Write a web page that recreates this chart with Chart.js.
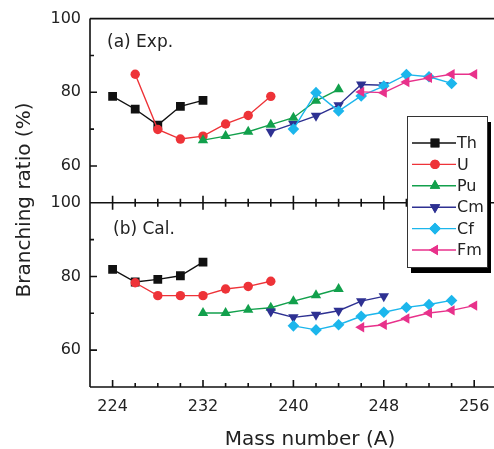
<!DOCTYPE html>
<html lang="en">
<head>
<meta charset="UTF-8">
<title>Branching ratio vs mass number</title>
<style>
  html, body { margin: 0; padding: 0; background: #fff; overflow: hidden; }
  #wrap { width: 503px; height: 449px; }
</style>
</head>
<body>
<div id="wrap"><canvas id="myChart" width="503" height="449"></canvas></div>

<script src="https://cdn.jsdelivr.net/npm/chart.js"></script>
<script>
// mass numbers per element
var thA = [224, 226, 228, 230, 232];
var uA  = [226, 228, 230, 232, 234, 236, 238];
var puA = [232, 234, 236, 238, 240, 242, 244];
var cmA = [238, 240, 242, 244, 246, 248];
var cfA = [240, 242, 244, 246, 248, 250, 252, 254];
var fmA = [246, 248, 250, 252, 254, 256];

// (a) experimental branching ratio (%)
var thExp = [78.9, 75.4, 71.1, 76.2, 77.8];
var uExp  = [84.9, 69.9, 67.3, 68.1, 71.4, 73.7, 78.9];
var puExp = [67.0, 68.1, 69.3, 71.2, 73.1, 77.7, 80.8];
var cmExp = [69.3, 71.4, 73.6, 76.5, 82.1, 81.9];
var cfExp = [70.0, 79.9, 74.9, 79.0, 81.7, 84.8, 84.2, 82.4];
var fmExp = [80.1, 79.9, 82.8, 83.9, 84.9, 84.9];

// (b) calculated branching ratio (%)
var thCal = [81.9, 78.5, 79.2, 80.2, 83.9];
var uCal  = [78.3, 74.8, 74.8, 74.8, 76.6, 77.3, 78.7];
var puCal = [70.1, 70.1, 71.0, 71.5, 73.3, 74.9, 76.6];
var cmCal = [70.5, 68.9, 69.6, 70.7, 73.3, 74.6];
var cfCal = [66.6, 65.5, 66.9, 69.2, 70.3, 71.6, 72.4, 73.5];
var fmCal = [66.2, 66.9, 68.6, 70.1, 70.8, 72.1];

var xTicks = [224, 232, 240, 248, 256];
var yTicks = [60, 80, 100];

var names = ['Th', 'U', 'Pu', 'Cm', 'Cf', 'Fm'];
var masses = [thA, uA, puA, cmA, cfA, fmA];
var expVals = [thExp, uExp, puExp, cmExp, cfExp, fmExp];
var calVals = [thCal, uCal, puCal, cmCal, cfCal, fmCal];
var colors = ['#111111', '#ee3338', '#12a04c', '#2e3192', '#1cb6ec', '#e8318b'];
var styles = ['rect', 'circle', 'triangle', 'triangle', 'rectRot', 'triangle'];
var rotations = [0, 0, 0, 180, 0, -90];
var radii = [6.2, 4.7, 6, 6, 5.8, 6];

var FONT = "'DejaVu Sans', sans-serif";

function points(xs, ys) {
    return xs.map(function (x, i) { return { x: x, y: ys[i] }; });
}

var datasets = [];
[['yTop', expVals], ['yBot', calVals]].forEach(function (panel) {
    names.forEach(function (name, i) {
        datasets.push({
            label: name,
            yAxisID: panel[0],
            data: points(masses[i], panel[1][i]),
            borderColor: colors[i],
            backgroundColor: colors[i],
            borderWidth: 1.4,
            pointStyle: styles[i],
            rotation: rotations[i],
            pointRadius: radii[i],
            pointBorderWidth: 0,
            pointHoverRadius: radii[i],
            order: 10 - i,
            tension: 0
        });
    });
});

function yScale() {
    return {
        type: 'linear',
        position: 'left',
        stack: 'panels',
        stackWeight: 1,
        min: 50,
        max: 100,
        grid: { display: false, drawTicks: false },
        border: { display: false },
        ticks: { color: '#222', font: { family: FONT, size: 16 }, padding: 9 },
        afterBuildTicks: function (scale) {
            scale.ticks = yTicks.map(function (v) { return { value: v }; });
        },
        afterFit: function (scale) { scale.width = 90; }
    };
}

// frame, inward ticks, titles, panel labels and legend
var decor = {
    id: 'decor',
    afterDatasetsDraw: function (chart) {
        var ctx = chart.ctx;
        var a = chart.chartArea;
        var x = chart.scales.x, yTop = chart.scales.yTop, yBot = chart.scales.yBot;
        var mid = yTop.bottom;
        ctx.save();
        ctx.strokeStyle = '#111';
        ctx.lineWidth = 1.6;
        ctx.beginPath();
        // the right edge of the frame is cut off in the original figure
        ctx.moveTo(a.left, a.top); ctx.lineTo(a.right, a.top);
        ctx.moveTo(a.left, mid); ctx.lineTo(a.right, mid);
        ctx.moveTo(a.left, a.bottom); ctx.lineTo(a.right, a.bottom);
        ctx.moveTo(a.left, a.top); ctx.lineTo(a.left, a.bottom);

        for (var m = 224; m <= 256; m += 2) {
            var px = x.getPixelForValue(m);
            var len = xTicks.indexOf(m) >= 0 ? 7 : 4;
            ctx.moveTo(px, a.bottom); ctx.lineTo(px, a.bottom - len);
            ctx.moveTo(px, mid); ctx.lineTo(px, mid - len);
            ctx.moveTo(px, mid); ctx.lineTo(px, mid + len);
        }
        [yTop, yBot].forEach(function (s) {
            [60, 70, 80, 90].forEach(function (v) {
                var py = s.getPixelForValue(v);
                var len = yTicks.indexOf(v) >= 0 ? 7 : 4;
                ctx.moveTo(a.left, py); ctx.lineTo(a.left + len, py);
            });
        });
        ctx.stroke();

        ctx.fillStyle = '#222';
        ctx.textBaseline = 'middle';
        ctx.font = '17px ' + FONT;
        ctx.textAlign = 'left';
        ctx.fillText('(a) Exp.', 107, 43);
        ctx.fillText('(b) Cal.', 113, 230);

        ctx.font = '20px ' + FONT;
        ctx.textAlign = 'center';
        ctx.textBaseline = 'alphabetic';
        ctx.fillText('Mass number (A)', 310, 445);
        ctx.save();
        ctx.translate(30, 200);
        ctx.rotate(-Math.PI / 2);
        ctx.fillText('Branching ratio (%)', 0, 0);
        ctx.restore();

        // legend box with shadow
        ctx.fillStyle = '#000';
        ctx.fillRect(411, 122, 80, 151);
        ctx.fillStyle = '#fff';
        ctx.fillRect(407, 116, 80, 151);
        ctx.lineWidth = 1;
        ctx.strokeStyle = '#333';
        ctx.strokeRect(407.5, 116.5, 80, 151);
        ctx.font = '16px ' + FONT;
        ctx.textAlign = 'left';
        ctx.textBaseline = 'middle';
        names.forEach(function (name, i) {
            var ly = 143 + i * 21.4;
            ctx.strokeStyle = colors[i];
            ctx.lineWidth = 1.4;
            ctx.beginPath();
            ctx.moveTo(412, ly); ctx.lineTo(456, ly);
            ctx.stroke();
            ctx.fillStyle = colors[i];
            Chart.helpers.drawPoint(ctx, {
                pointStyle: styles[i], rotation: rotations[i],
                radius: radii[i], borderWidth: 0
            }, 435, ly);
            ctx.fill();
            ctx.fillStyle = '#222';
            ctx.fillText(name, 457, ly + 1);
        });
        ctx.restore();
    }
};

var ctx = document.getElementById('myChart').getContext('2d');
var myChart = new Chart(ctx, {
    type: 'line',
    data: { datasets: datasets },
    options: {
        responsive: false,
        animation: false,
        devicePixelRatio: 1,
        layout: { padding: { top: 18, right: 0, left: 0, bottom: 0 } },
        plugins: { legend: { display: false }, tooltip: { enabled: false } },
        scales: {
            x: {
                type: 'linear',
                min: 222,
                max: 258,
                grid: { display: false, drawTicks: false },
                border: { display: false },
                ticks: { color: '#222', font: { family: FONT, size: 16 }, padding: 10, maxRotation: 0 },
                afterBuildTicks: function (scale) {
                    scale.ticks = xTicks.map(function (v) { return { value: v }; });
                },
                afterFit: function (scale) {
                    scale.height = 62;
                    scale.paddingLeft = 0;
                    scale.paddingRight = 0;
                }
            },
            // bottom panel scale first: the stack places it below
            yBot: yScale(),
            yTop: yScale()
        }
    },
    plugins: [decor]
});
</script>
</body>
</html>
